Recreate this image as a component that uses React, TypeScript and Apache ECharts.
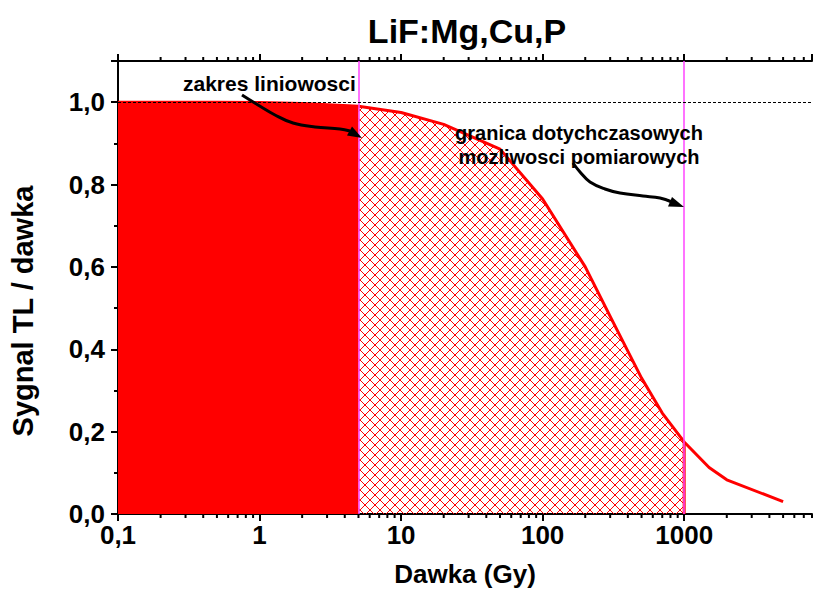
import React, { useEffect, useRef } from 'react';
import * as echarts from 'echarts';

const doses = [0.1, 0.2, 0.5, 1, 2, 5, 10, 20, 50, 100, 200, 300, 500, 700, 1000, 1500, 2000, 5000];
const signal = [1.0, 1.0, 1.0, 0.999, 0.997, 0.99, 0.975, 0.946, 0.886, 0.765, 0.6, 0.48, 0.33, 0.245, 0.175, 0.113, 0.083, 0.03];
const linearLimit = 5;
const measureLimit = 1000;
const xMin = 0.1;
const xMax = 8000;
const yMin = 0;
const yMax = 1.1;
const minorX = [0.2, 0.3, 0.4, 0.5, 0.6, 0.7, 0.8, 0.9, 2, 3, 4, 5, 6, 7, 8, 9, 20, 30, 40, 50, 60, 70, 80, 90, 200, 300, 400, 500, 600, 700, 800, 900, 2000, 3000, 4000, 5000, 6000, 7000, 8000];
const titleText = 'LiF:Mg,Cu,P';
const xName = 'Dawka (Gy)';
const yName = 'Sygnal TL / dawka';
const note1 = 'zakres liniowosci';
const note2 = 'granica dotychczasowych\nmozliwosci pomiarowych';

const FONT = '"Liberation Sans", Arial, sans-serif';

function makeHatch(): HTMLCanvasElement {
  const c = document.createElement('canvas');
  c.width = 10;
  c.height = 10;
  const ctx = c.getContext('2d')!;
  ctx.strokeStyle = '#ff0000';
  ctx.lineWidth = 1;
  ctx.beginPath();
  ctx.moveTo(0, 0); ctx.lineTo(10, 10);
  ctx.moveTo(10, 0); ctx.lineTo(0, 10);
  ctx.stroke();
  return c;
}

export default function App() {
  const ref = useRef<HTMLDivElement>(null);
  useEffect(() => {
    const chart = echarts.init(ref.current!, null, { renderer: 'svg' });
    const pairs = doses.map((d, i) => [d, signal[i]]);
    const solid = pairs.filter((p) => p[0] <= linearLimit);
    const hatched = pairs.filter((p) => p[0] >= linearLimit && p[0] <= measureLimit);
    const yAtLimit = signal[doses.indexOf(measureLimit)];
    const hatch = makeHatch();

    const isPow10 = (v: number) => Math.abs(Math.log10(v) - Math.round(Math.log10(v))) < 1e-6;

    chart.setOption({
      animation: false,
      backgroundColor: '#ffffff',
      title: {
        text: titleText,
        left: 462,
        textAlign: 'center',
        top: 9,
        textStyle: { fontFamily: FONT, fontWeight: 'bold', fontSize: 34, color: '#000' },
      },
      grid: { left: 118, right: 1, top: 61, bottom: 75 },
      xAxis: [
        {
          type: 'log',
          logBase: 10,
          min: xMin,
          max: xMax,
          position: 'bottom',
          name: xName,
          nameLocation: 'middle',
          nameGap: 47,
          nameTextStyle: { fontFamily: FONT, fontWeight: 'bold', fontSize: 26, color: '#000' },
          axisLine: { show: true, lineStyle: { color: '#000', width: 2 } },
          axisTick: { show: true, inside: false, length: 7, lineStyle: { color: '#000', width: 2 } },
          minorTick: { show: false },
          splitLine: { show: false },
          axisLabel: {
            show: true,
            margin: 8,
            showMaxLabel: false,
            fontFamily: FONT,
            fontWeight: 'bold',
            fontSize: 26,
            color: '#000',
            formatter: (v: number) => (isPow10(v) ? (v < 1 ? String(v).replace('.', ',') : String(Math.round(v))) : ''),
          },
        },
        {
          type: 'log',
          logBase: 10,
          min: xMin,
          max: xMax,
          position: 'top',
          axisLine: { show: true, lineStyle: { color: '#000', width: 2 } },
          axisTick: { show: true, inside: false, length: 7, lineStyle: { color: '#000', width: 2 } },
          axisLabel: { show: false },
          splitLine: { show: false },
        },
      ],
      yAxis: {
        type: 'value',
        min: yMin,
        max: yMax,
        interval: 0.2,
        axisLine: { show: true, lineStyle: { color: '#000', width: 2 } },
        axisTick: { show: true, inside: false, length: 7, lineStyle: { color: '#000', width: 2 } },
        minorTick: { show: true, splitNumber: 2, length: 4, lineStyle: { color: '#000', width: 2 } },
        splitLine: { show: false },
        axisLabel: {
          showMaxLabel: false,
          margin: 13,
          fontFamily: FONT,
          fontWeight: 'bold',
          fontSize: 26,
          color: '#000',
          formatter: (v: number) => (v > 1.05 ? '' : v.toFixed(1).replace('.', ',')),
        },
      },
      series: [
        {
          type: 'line',
          data: solid,
          symbol: 'none',
          lineStyle: { width: 0 },
          areaStyle: { color: '#ff0000', opacity: 1 },
          z: 1,
          silent: true,
        },
        {
          type: 'line',
          data: hatched,
          symbol: 'none',
          lineStyle: { width: 0 },
          areaStyle: {
            color: { image: hatch, repeat: 'repeat', imageWidth: 10, imageHeight: 10 },
            opacity: 1,
          },
          z: 1,
          silent: true,
        },
        {
          type: 'line',
          data: [[measureLimit, 0], [measureLimit, yAtLimit]],
          symbol: 'none',
          lineStyle: { color: '#ff0000', width: 3 },
          z: 2,
          silent: true,
        },
        {
          type: 'line',
          data: pairs,
          symbol: 'none',
          lineStyle: { color: '#ff0000', width: 3 },
          z: 3,
          silent: true,
          markLine: {
            silent: true,
            symbol: ['none', 'none'],
            label: { show: false },
            data: [
              { xAxis: linearLimit, lineStyle: { color: '#ff44ff', width: 1.5, type: 'solid' } },
              { xAxis: measureLimit, lineStyle: { color: '#ff44ff', width: 1.5, type: 'solid' } },
              { yAxis: 1, lineStyle: { color: '#000', width: 1, type: [3, 2] } },
            ],
          },
        },
        {
          type: 'custom',
          data: minorX.map((v) => [v, 0]),
          clip: false,
          silent: true,
          z: 5,
          renderItem: (params: any, api: any) => {
            const v = api.value(0);
            const b = api.coord([v, yMin]);
            const t = api.coord([v, yMax]);
            return {
              type: 'group',
              children: [
                { type: 'line', shape: { x1: b[0], y1: b[1], x2: b[0], y2: b[1] + 4 }, style: { stroke: '#000', lineWidth: 2 } },
                { type: 'line', shape: { x1: t[0], y1: t[1], x2: t[0], y2: t[1] - 4 }, style: { stroke: '#000', lineWidth: 2 } },
              ],
            };
          },
        },
      ],
      graphic: [
        {
          type: 'text',
          x: 23,
          y: 311,
          rotation: Math.PI / 2,
          style: { text: yName, fontFamily: FONT, fontWeight: 'bold', fontSize: 29, fill: '#000', align: 'center', verticalAlign: 'middle' },
          z: 10,
        },
        {
          type: 'text',
          left: 183,
          top: 73,
          style: { text: note1, fontFamily: FONT, fontWeight: 'bold', fontSize: 21, fill: '#000' },
          z: 10,
        },
        {
          type: 'text',
          x: 579,
          y: 121,
          style: { text: note2, fontFamily: FONT, fontWeight: 'bold', fontSize: 20, fill: '#000', align: 'center', lineHeight: 24 },
          z: 10,
        },
        {
          type: 'polyline',
          shape: { points: [[242, 95], [258, 105], [275, 115], [293, 123], [315, 127], [340, 129], [350, 131]], smooth: 0.4 },
          style: { stroke: '#000', lineWidth: 3, fill: 'none' },
          z: 10,
        },
        {
          type: 'polygon',
          shape: { points: [[362, 138], [352, 126.5], [347, 135.5]] },
          style: { fill: '#000' },
          z: 10,
        },
        {
          type: 'polyline',
          shape: { points: [[573, 163], [580, 172], [590, 182], [605, 189], [620, 193], [643, 196], [660, 198], [672, 202]], smooth: 0.4 },
          style: { stroke: '#000', lineWidth: 3, fill: 'none' },
          z: 10,
        },
        {
          type: 'polygon',
          shape: { points: [[684, 207], [672, 197], [668, 206.5]] },
          style: { fill: '#000' },
          z: 10,
        },
      ],
    });
    return () => chart.dispose();
  }, []);
  return <div ref={ref} style={{ position: 'fixed', left: 0, top: 0, width: 813, height: 592 }} />;
}
